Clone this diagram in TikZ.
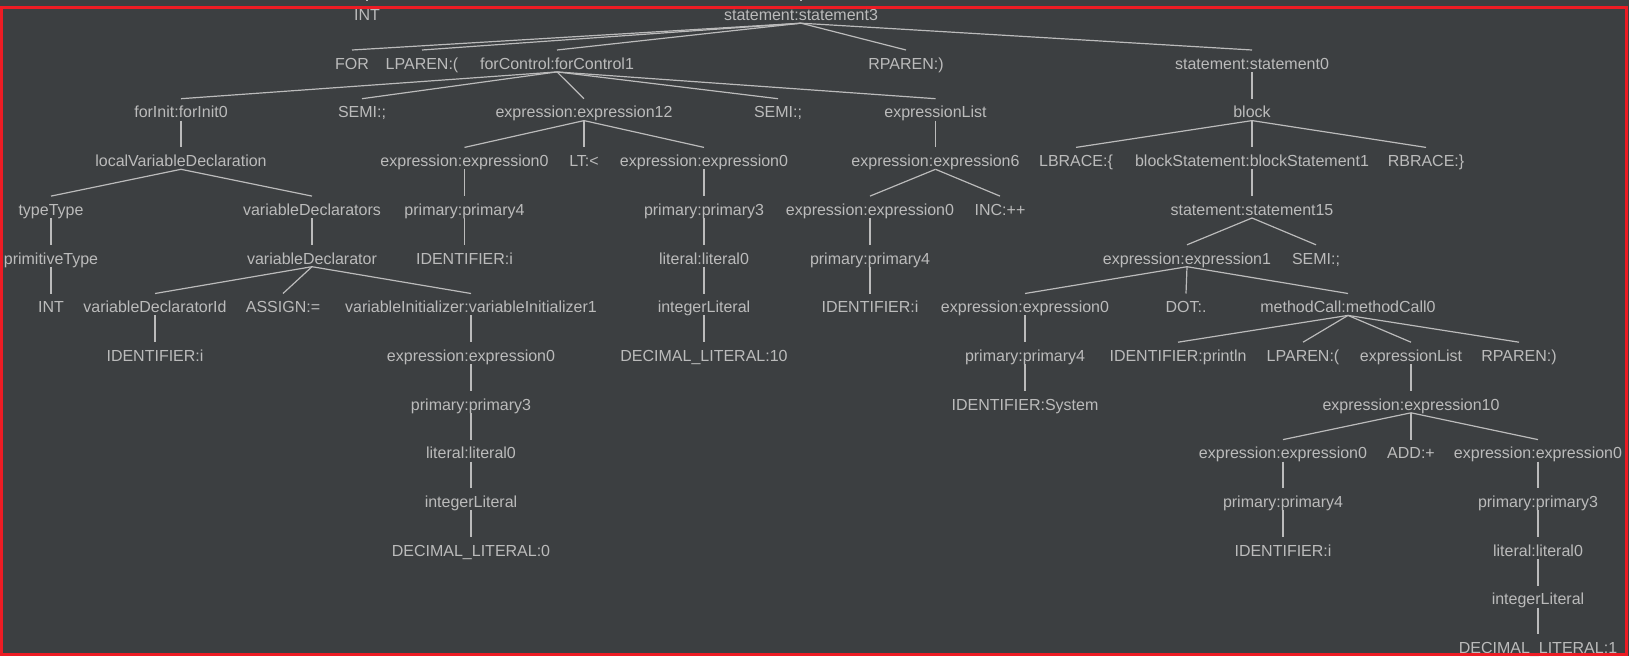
\documentclass[tikz,border=0pt]{standalone}
\usepackage{fontspec}
\setmainfont{Liberation Sans}
\usepackage{tikz}

\definecolor{panelbg}{RGB}{60,63,65}
\definecolor{treegray}{RGB}{187,187,187}
\definecolor{framered}{RGB}{237,28,36}

\tikzset{
    tok/.style={anchor=base, text=treegray, font=\fontsize{16}{19}\selectfont,
        inner xsep=0pt, inner ysep=2.5pt, text height=16.5pt, text depth=0pt},
    link/.style={draw=treegray, line width=1.2pt}
}

\begin{document}
\begin{tikzpicture}[x=1pt, y=-48.7pt]
    % Background
    \fill[panelbg] (0pt,0pt) rectangle (1629pt,-656pt);
    \useasboundingbox (0pt,0pt) rectangle (1629pt,-656pt);

    \begin{scope}[yshift=-20.5pt]
    % Row 0
    \node[tok] (inttop) at (367,0) {INT};
    \node[tok] (st3) at (801,0) {statement:statement3};
    % Row 1
    \node[tok] (forkw) at (352,1) {FOR};
    \node[tok] (lp1) at (422,1) {LPAREN:(};
    \node[tok] (fc) at (557,1) {forControl:forControl1};
    \node[tok] (rp1) at (906,1) {RPAREN:)};
    \node[tok] (st0) at (1252,1) {statement:statement0};
    % Row 2
    \node[tok] (finit) at (181,2) {forInit:forInit0};
    \node[tok] (semi1) at (362,2) {SEMI:;};
    \node[tok] (ex12) at (584,2) {expression:expression12};
    \node[tok] (semi2) at (778,2) {SEMI:;};
    \node[tok] (elist1) at (935.5,2) {expressionList};
    \node[tok] (block) at (1252,2) {block};
    % Row 3
    \node[tok] (lvd) at (181,3) {localVariableDeclaration};
    \node[tok] (exA0) at (464.5,3) {expression:expression0};
    \node[tok] (lt) at (584,3) {LT:<};
    \node[tok] (exB0) at (704,3) {expression:expression0};
    \node[tok] (ex6) at (935.5,3) {expression:expression6};
    \node[tok] (lbrace) at (1076,3) {LBRACE:\{};
    \node[tok] (bst1) at (1252,3) {blockStatement:blockStatement1};
    \node[tok] (rbrace) at (1426,3) {RBRACE:\}};
    % Row 4
    \node[tok] (ttype) at (51,4) {typeType};
    \node[tok] (vdecls) at (312,4) {variableDeclarators};
    \node[tok] (prA4) at (464.5,4) {primary:primary4};
    \node[tok] (prB3) at (704,4) {primary:primary3};
    \node[tok] (exC0) at (870,4) {expression:expression0};
    \node[tok] (inc) at (1000,4) {INC:++};
    \node[tok] (st15) at (1252,4) {statement:statement15};
    % Row 5
    \node[tok] (ptype) at (51,5) {primitiveType};
    \node[tok] (vdecl) at (312,5) {variableDeclarator};
    \node[tok] (idA) at (464.5,5) {IDENTIFIER:i};
    \node[tok] (litB) at (704,5) {literal:literal0};
    \node[tok] (prC4) at (870,5) {primary:primary4};
    \node[tok] (ex1) at (1187,5) {expression:expression1};
    \node[tok] (semi3) at (1316,5) {SEMI:;};
    % Row 6
    \node[tok] (intkw) at (51,6) {INT};
    \node[tok] (vdid) at (155,6) {variableDeclaratorId};
    \node[tok] (assign) at (283,6) {ASSIGN:=};
    \node[tok] (vinit) at (471,6) {variableInitializer:variableInitializer1};
    \node[tok] (intB) at (704,6) {integerLiteral};
    \node[tok] (idC) at (870,6) {IDENTIFIER:i};
    \node[tok] (exD0) at (1025,6) {expression:expression0};
    \node[tok] (dot) at (1186,6) {DOT:.};
    \node[tok] (mcall) at (1348,6) {methodCall:methodCall0};
    % Row 7
    \node[tok] (idI) at (155,7) {IDENTIFIER:i};
    \node[tok] (exE0) at (471,7) {expression:expression0};
    \node[tok] (decB) at (704,7) {DECIMAL\_LITERAL:10};
    \node[tok] (prD4) at (1025,7) {primary:primary4};
    \node[tok] (println) at (1178,7) {IDENTIFIER:println};
    \node[tok] (lp2) at (1303,7) {LPAREN:(};
    \node[tok] (elist2) at (1411,7) {expressionList};
    \node[tok] (rp2) at (1519,7) {RPAREN:)};
    % Row 8
    \node[tok] (prE3) at (471,8) {primary:primary3};
    \node[tok] (idSys) at (1025,8) {IDENTIFIER:System};
    \node[tok] (ex10) at (1411,8) {expression:expression10};
    % Row 9
    \node[tok] (litE) at (471,9) {literal:literal0};
    \node[tok] (exF0) at (1283,9) {expression:expression0};
    \node[tok] (add) at (1411,9) {ADD:+};
    \node[tok] (exG0) at (1538,9) {expression:expression0};
    % Row 10
    \node[tok] (intE) at (471,10) {integerLiteral};
    \node[tok] (prF4) at (1283,10) {primary:primary4};
    \node[tok] (prG3) at (1538,10) {primary:primary3};
    % Row 11
    \node[tok] (decE) at (471,11) {DECIMAL\_LITERAL:0};
    \node[tok] (idF) at (1283,11) {IDENTIFIER:i};
    \node[tok] (litG) at (1538,11) {literal:literal0};
    % Row 12 and 13
    \node[tok] (intG) at (1538,12) {integerLiteral};
    \node[tok] (decG) at (1538,13) {DECIMAL\_LITERAL:1};

    % Parents above the visible part
    \coordinate (tickA) at (367,-0.5);
    \coordinate (tickB) at (801,-0.5);
    \draw[link] (tickA) -- (inttop.north);
    \draw[link] (tickB) -- (st3.north);

    % Draw the tree edges
    \foreach \p/\c in {st3/forkw, st3/lp1, st3/fc, st3/rp1, st3/st0,
        fc/finit, fc/semi1, fc/ex12, fc/semi2, fc/elist1,
        finit/lvd, lvd/ttype, lvd/vdecls, ttype/ptype, ptype/intkw,
        vdecls/vdecl, vdecl/vdid, vdecl/assign, vdecl/vinit, vdid/idI,
        vinit/exE0, exE0/prE3, prE3/litE, litE/intE, intE/decE,
        ex12/exA0, ex12/lt, ex12/exB0, exA0/prA4, prA4/idA,
        exB0/prB3, prB3/litB, litB/intB, intB/decB,
        elist1/ex6, ex6/exC0, ex6/inc, exC0/prC4, prC4/idC,
        st0/block, block/lbrace, block/bst1, block/rbrace,
        bst1/st15, st15/ex1, st15/semi3,
        ex1/exD0, ex1/dot, ex1/mcall, exD0/prD4, prD4/idSys,
        mcall/println, mcall/lp2, mcall/elist2, mcall/rp2,
        elist2/ex10, ex10/exF0, ex10/add, ex10/exG0,
        exF0/prF4, prF4/idF,
        exG0/prG3, prG3/litG, litG/intG, intG/decG}
        \draw[link] (\p.south) -- (\c.north);
    \end{scope}

    % Red frame
    \draw[framered, line width=3pt] (1.7pt,-7.5pt) rectangle (1626pt,-654.5pt);
\end{tikzpicture}
\end{document}
